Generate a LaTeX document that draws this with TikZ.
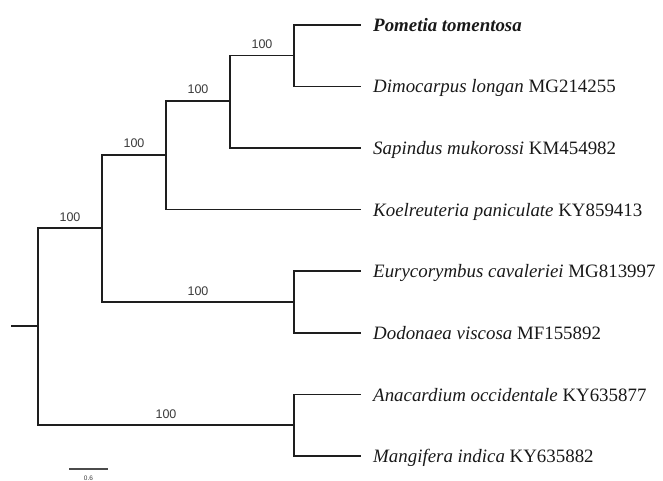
\documentclass[tikz,border=0pt]{standalone}
\usepackage{fontspec}
\setmainfont{Liberation Serif}
\newfontfamily\labfont{Liberation Sans}
\definecolor{linec}{HTML}{1E1E1E}
\definecolor{supc}{HTML}{3A3A3A}
\begin{document}
\begin{tikzpicture}[x=1pt,y=-1pt,
  br/.style={draw=linec,line width=1.9pt,line cap=rect},
  leaf/.style={anchor=base west,inner sep=0pt,font=\fontsize{18.9}{22}\selectfont,text=black!90},
  sup/.style={anchor=base,inner sep=0pt,font=\labfont\fontsize{12.5}{14}\selectfont,text=supc}]
\useasboundingbox (0,0) rectangle (663,481);
% internal nodes
\coordinate (r0) at (12,326);
\coordinate (n1) at (38,326);
\coordinate (nA) at (102,228);
\coordinate (nB) at (166,155);
\coordinate (nC) at (230,101);
\coordinate (nD) at (294,55.5);
\coordinate (nE) at (294,302);
\coordinate (nF) at (294,425);
% tips
\coordinate (t1) at (360,25);
\coordinate (t2) at (360,86.5);
\coordinate (t3) at (360,148);
\coordinate (t4) at (360,209.5);
\coordinate (t5) at (360,271);
\coordinate (t6) at (360,333);
\coordinate (t7) at (360,394.5);
\coordinate (t8) at (360,456);
% branches
\draw[br] (r0) -- (n1);
\draw[br] (n1) |- (nA);
\draw[br] (n1) |- (nF);
\draw[br] (nA) |- (nB);
\draw[br] (nA) |- (nE);
\draw[br] (nB) |- (nC);
\draw[br] (nB) |- (t4);
\draw[br] (nC) |- (nD);
\draw[br] (nC) |- (t3);
\draw[br] (nD) |- (t1);
\draw[br] (nD) |- (t2);
\draw[br] (nE) |- (t5);
\draw[br] (nE) |- (t6);
\draw[br] (nF) |- (t7);
\draw[br] (nF) |- (t8);
% leaf labels
\tikzset{lpos/.style={xshift=13pt,yshift=-6.5pt}}
\node[leaf] (L1) at ([lpos]t1) {\textbf{\textit{Pometia tomentosa}}};
\node[leaf] (L2) at ([lpos]t2) {\textit{Dimocarpus longan} MG214255};
\node[leaf] (L3) at ([lpos]t3) {\textit{Sapindus mukorossi} KM454982};
\node[leaf] (L4) at ([lpos]t4) {\textit{Koelreuteria paniculate} KY859413};
\node[leaf] (L5) at ([lpos]t5) {\textit{Eurycorymbus cavaleriei} MG813997};
\node[leaf] (L6) at ([lpos]t6) {\textit{Dodonaea viscosa} MF155892};
\node[leaf] (L7) at ([lpos]t7) {\textit{Anacardium occidentale} KY635877};
\node[leaf] (L8) at ([lpos]t8) {\textit{Mangifera indica} KY635882};
% support values
\node[sup] (sA) at (70,221) {100};
\node[sup] (sB) at (134,148) {100};
\node[sup] (sC) at (198,94) {100};
\node[sup] (sD) at (262,48.5) {100};
\node[sup] (sE) at (198,295) {100};
\node[sup] (sF) at (166,418) {100};
% scale bar
\coordinate (s0) at (69,469);
\coordinate (s1) at (108,469);
\draw[draw=linec!80,line width=1.4pt] (s0) -- (s1);
\node[anchor=base,inner sep=0pt,font=\labfont\fontsize{6.5}{7}\selectfont,text=supc] (sl) at (88.5,480.5) {0.6};
\end{tikzpicture}
\end{document}
